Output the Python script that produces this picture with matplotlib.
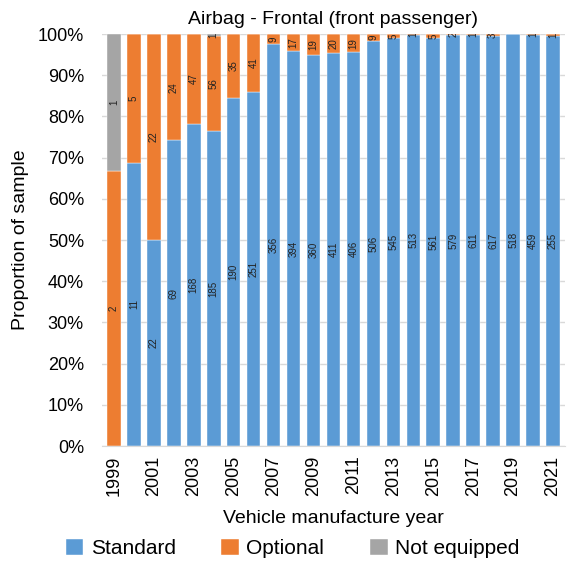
import numpy as np
import matplotlib.pyplot as plt
from matplotlib.ticker import PercentFormatter

years = list(range(1999, 2022))
standard = [0, 11, 22, 69, 168, 185, 190, 251, 356, 394, 360, 411, 406,
            506, 545, 513, 561, 579, 611, 617, 518, 459, 255]
optional = [2, 5, 22, 24, 47, 56, 35, 41, 9, 17, 19, 20, 19,
            9, 5, 1, 5, 2, 1, 3, 0, 1, 1]
not_equipped = [1, 0, 0, 0, 0, 1, 0, 0, 0, 0, 0, 0, 0,
                0, 0, 0, 0, 0, 0, 0, 0, 0, 0]

plt.rcParams['font.family'] = ['Liberation Sans', 'DejaVu Sans']

std = np.array(standard, float)
opt = np.array(optional, float)
ne = np.array(not_equipped, float)
tot = std + opt + ne

fig = plt.figure(figsize=(5.68, 5.67), dpi=100)
ax = fig.add_axes([0.1796, 0.2134, 0.815, 0.7266])

x = np.arange(len(years))
series = [(std, 'Standard', '#5B9BD5'),
          (opt, 'Optional', '#ED7D31'),
          (ne, 'Not equipped', '#A5A5A5')]
bottom = np.zeros(len(years))
for vals, name, col in series:
    frac = vals / tot
    ax.bar(x, frac, 0.68, bottom=bottom, color=col, label=name, zorder=2,
           edgecolor='white', linewidth=0.3)
    for i in range(len(years)):
        if vals[i] > 0:
            ax.text(x[i], bottom[i] + frac[i] / 2, str(int(vals[i])),
                    rotation=90, ha='center', va='center', fontsize=7,
                    color='#222222', zorder=3, clip_on=True)
    bottom += frac

ax.set_ylim(0, 1)
ax.set_xlim(-0.6, len(years) - 0.4)
ax.yaxis.set_major_formatter(PercentFormatter(1.0, decimals=0))
ax.set_yticks(np.arange(0, 1.01, 0.1))
ax.set_xticks(x[::2])
ax.set_xticklabels([str(y) for y in years[::2]], rotation=90)
ax.tick_params(axis='both', length=0, labelsize=13)
ax.tick_params(axis='y', pad=13)
ax.tick_params(axis='x', pad=7)
ax.grid(axis='y', color='#D9D9D9', linewidth=1, zorder=0)
for s in ['top', 'right', 'left']:
    ax.spines[s].set_visible(False)
ax.spines['bottom'].set_color('#D9D9D9')

ax.set_title('Airbag - Frontal (front passenger)', fontsize=14, pad=7)
ax.set_ylabel('Proportion of sample', fontsize=14, labelpad=6)
ax.set_xlabel('Vehicle manufacture year', fontsize=14, labelpad=10)
fig.legend(loc='center', bbox_to_anchor=(0.515, 0.033), ncol=3,
           frameon=False, fontsize=15, handlelength=0.85, handleheight=0.85,
           columnspacing=2.2, handletextpad=0.35)

fig.savefig('out.png', dpi=100)
